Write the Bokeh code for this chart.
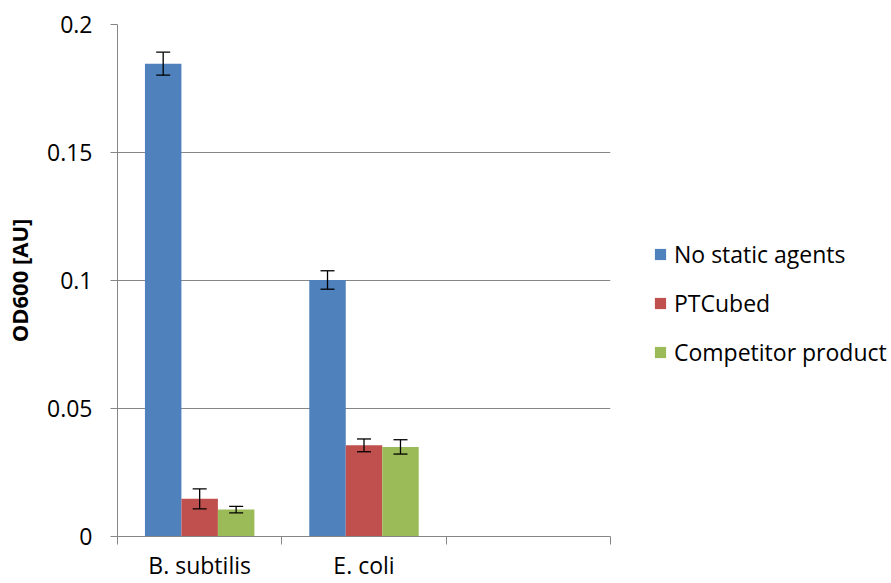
from bokeh.plotting import figure
from bokeh.layouts import row
from bokeh.models import (Range1d, FixedTicker, ColumnDataSource, Whisker, TeeHead,
                          Legend, LegendItem)
from bokeh.transform import dodge
from bokeh.embed import file_html
from bokeh.resources import INLINE

# ---- data ----
categories = ["B. subtilis", "E. coli"]
n_slots = 3
series_names = ["No static agents", "PTCubed", "Competitor product"]
series_colors = ["#4F81BD", "#C0504D", "#9BBB59"]
no_static = [0.1847, 0.1002]
ptcubed = [0.0147, 0.0356]
competitor = [0.0105, 0.0350]
no_static_err = [0.0045, 0.0036]
ptcubed_err = [0.0039, 0.0025]
competitor_err = [0.0013, 0.0028]
y_ticks = [0, 0.05, 0.1, 0.15, 0.2]
y_tick_labels = ["0", "0.05", "0.1", "0.15", "0.2"]

FONT = "Open Sans"
GRID = "#868686"

x_pos = [i + 0.5 for i in range(len(categories))]
series_vals = [no_static, ptcubed, competitor]
series_errs = [no_static_err, ptcubed_err, competitor_err]

MAIN_W = 630
p = figure(width=MAIN_W, height=583, x_range=Range1d(0, n_slots), y_range=Range1d(0, 0.2),
           output_backend="svg", toolbar_location=None,
           min_border_left=117, min_border_right=20, min_border_top=24, min_border_bottom=46)
p.outline_line_color = None
p.background_fill_color = "white"
p.border_fill_color = "white"

# separate panel that carries the legend
lp = figure(width=891 - MAIN_W, height=583, x_range=Range1d(0, 1), y_range=Range1d(0, 0.2),
            output_backend="svg", toolbar_location=None,
            x_axis_location=None, y_axis_location=None, min_border=0)
lp.outline_line_color = None
lp.grid.visible = False
lp.background_fill_color = "white"
lp.border_fill_color = "white"

bar_w = 0.222
offsets = [-bar_w, 0.0, bar_w]
items = []
for name, color, vals, errs, off in zip(series_names, series_colors, series_vals, series_errs, offsets):
    src = ColumnDataSource(dict(
        x=x_pos, top=vals,
        upper=[v + e for v, e in zip(vals, errs)],
        lower=[v - e for v, e in zip(vals, errs)],
    ))
    p.vbar(x=dodge("x", off, range=p.x_range), top="top", width=bar_w, bottom=0,
           source=src, fill_color=color, line_color=None)
    w = Whisker(source=src, base=dodge("x", off, range=p.x_range), upper="upper", lower="lower",
                dimension="height", line_color="black", line_width=1.3, level="overlay",
                upper_head=TeeHead(size=14, line_color="black", line_width=1.3),
                lower_head=TeeHead(size=14, line_color="black", line_width=1.3))
    p.add_layout(w)
    lr = lp.vbar(x="x", top="top", width=bar_w, bottom=0, source=src,
                 fill_color=color, line_color=None, visible=False)
    items.append(LegendItem(label=name, renderers=[lr]))

# x axis
xa = p.xaxis[0]
xa.ticker = FixedTicker(ticks=x_pos, minor_ticks=list(range(n_slots + 1)))
xa.major_label_overrides = {x: c for x, c in zip(x_pos, categories)}
xa.major_tick_out = 0
xa.major_tick_in = 0
xa.minor_tick_out = 8
xa.minor_tick_in = 0
xa.minor_tick_line_color = GRID
xa.axis_line_color = GRID
xa.major_label_standoff = 4
xa.major_label_text_font = FONT
xa.major_label_text_font_size = "23px"
xa.major_label_text_color = "black"

# y axis
ya = p.yaxis[0]
ya.ticker = FixedTicker(ticks=y_ticks, minor_ticks=[])
ya.major_label_overrides = {t: l for t, l in zip(y_ticks, y_tick_labels)}
ya.major_tick_out = 7
ya.major_tick_in = 0
ya.major_tick_line_color = GRID
ya.axis_line_color = GRID
ya.major_label_standoff = 18
ya.major_label_text_font = FONT
ya.major_label_text_font_size = "23px"
ya.major_label_text_color = "black"
ya.axis_label = "OD600 [AU]"
ya.axis_label_text_font = FONT
ya.axis_label_text_font_style = "bold"
ya.axis_label_text_font_size = "22px"
ya.axis_label_text_color = "black"
ya.axis_label_standoff = 10

p.xgrid.grid_line_color = None
p.ygrid.ticker = FixedTicker(ticks=y_ticks)
p.ygrid.grid_line_color = GRID
p.ygrid.grid_line_width = 1

legend = Legend(items=items, location=(23, 168), orientation="vertical",
                glyph_width=14, glyph_height=14, label_height=30, spacing=17,
                label_standoff=7, padding=0, margin=0,
                border_line_color=None, background_fill_alpha=0,
                label_text_font=FONT, label_text_font_size="23px", label_text_color="black")
lp.add_layout(legend)

layout = row(p, lp)
open("out.html", "w").write(file_html(layout, INLINE))
